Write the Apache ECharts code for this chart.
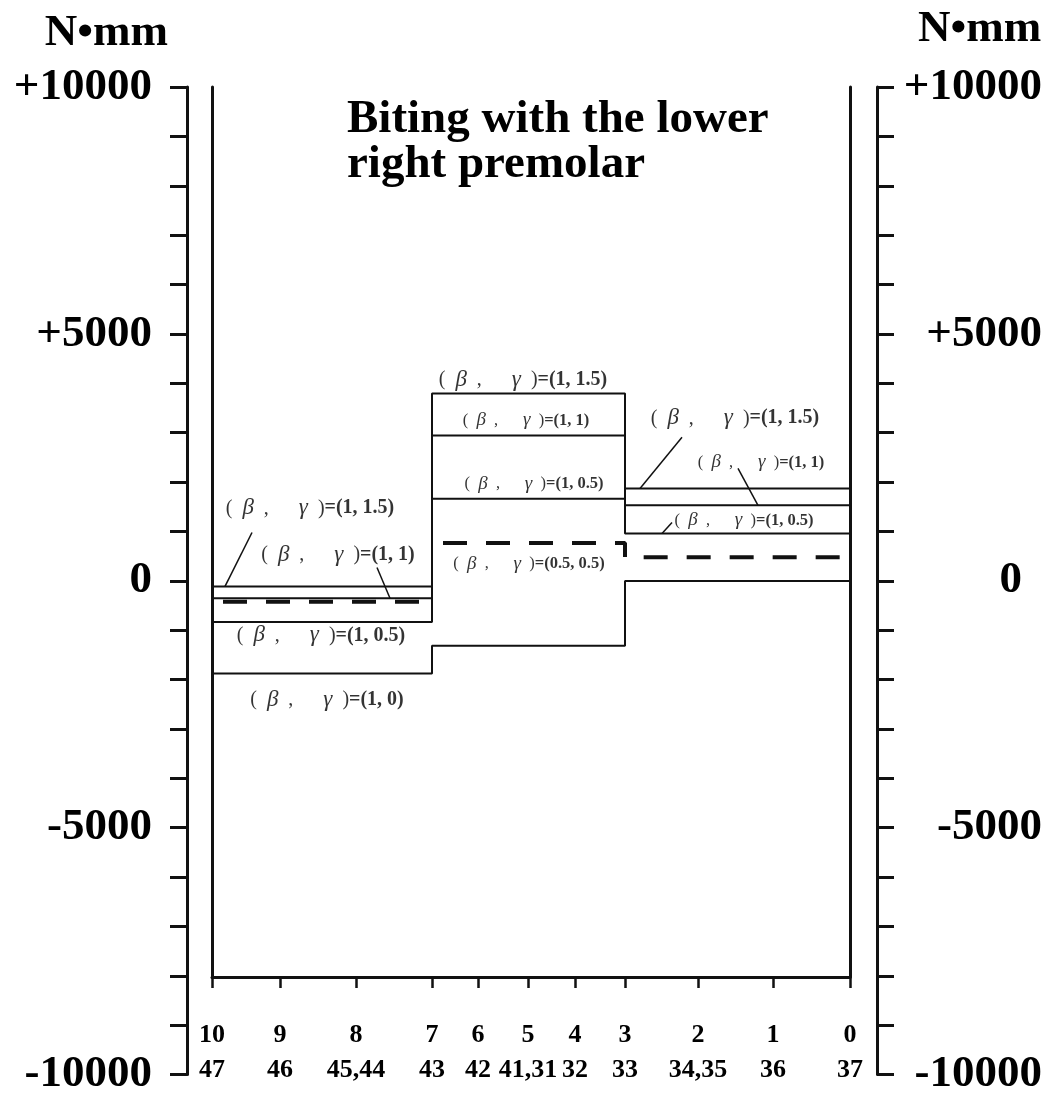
<!DOCTYPE html>
<html>
<head>
<meta charset="utf-8">
<title>Biting with the lower right premolar</title>
<script src="https://cdn.jsdelivr.net/npm/echarts@6/dist/echarts.min.js"></script>
<style>
  html, body { margin: 0; padding: 0; background: #fff; }
  #chart { width: 1048px; height: 1097px; }
</style>
</head>
<body>
<div id="chart"></div>
<script>
// Stations along the lower arch (10 = distal end at tooth 47, 0 = tooth 37)
const stationLabels = ['10', '9', '8', '7', '6', '5', '4', '3', '2', '1', '0'];
const toothLabels = ['47', '46', '45,44', '43', '42', '41,31', '32', '33', '34,35', '36', '37'];
// Distance of each station along the arch (arch-length units)
const stationPos = [0, 68, 144, 220, 266, 316, 363, 413, 486, 561, 638];
// Stations that bound the three constant-moment sections: 10-7, 7-3, 3-0
const sectionEdges = [0, 3, 7, 10];

// Bending moment (N·mm) in each section for each (beta, gamma) case
const m_1_15 = [-100, 3800, 1880];
const m_1_1 = [-340, 2950, 1540];
const m_1_05 = [-820, 1670, 970];
const m_1_0 = [-1860, -1300, 10];
const m_05_05 = [-410, 780, 490];

// Moment axis tick labels
const yLabelValues = [10000, 5000, 0, -5000, -10000];
const yLabelTexts = ['+10000', '+5000', '0', '-5000', '-10000'];

// Case labels and where they sit (arch position, moment)
const annoParams = ['(1, 1.5)', '(1, 1)', '(1, 0.5)', '(1, 0)',
                    '(1, 1.5)', '(1, 1)', '(1, 0.5)', '(0.5, 0.5)',
                    '(1, 1.5)', '(1, 1)', '(1, 0.5)'];
const annoAt = [[98, 1480], [126, 530], [109, -1090], [115, -2400],
                [311, 4070], [314, 3260], [322, 1980], [317, 360],
                [523, 3300], [549, 2410], [532, 1235]];
const annoSmall = [false, false, false, false, false, true, true, true, false, true, true];
// Leader lines from labels to their curves
const leaders = [
  [[40, 990], [13, -100]],
  [[165, 283], [178, -340]],
  [[470, 2915], [428, 1880]],
  [[526, 2287], [546, 1540]],
  [[460, 1194], [450, 970]]
];

const FONT = '"Liberation Serif", "Times New Roman", serif';
const INK = '#111';

// Step outline of a section-wise constant moment; the pen is lifted at
// the section edges listed in liftAt (indices into sectionEdges)
function stepPath(vals, liftAt) {
  const pts = [];
  for (let s = 0; s < vals.length; s++) {
    const x0 = stationPos[sectionEdges[s]];
    const x1 = stationPos[sectionEdges[s + 1]];
    if (s > 0 && liftAt.indexOf(s) >= 0) pts.push([x0, '-']);
    pts.push([x0, vals[s]], [x1, vals[s]]);
  }
  return pts;
}

function momentSeries(name, vals, dashed) {
  return {
    name: name,
    type: 'line',
    xAxisIndex: 1,
    yAxisIndex: 2,
    data: stepPath(vals, dashed ? [1] : []),
    connectNulls: false,
    symbol: 'none',
    silent: true,
    z: dashed ? 4 : 3,
    lineStyle: dashed
      ? { color: INK, width: 4, type: [24, 19], dashOffset: 32, cap: 'butt' }
      : { color: INK, width: 2 }
  };
}

function richFor(size) {
  return {
    p: { fontFamily: FONT, fontSize: size, color: '#000' },
    gk: { fontFamily: FONT, fontSize: Math.round(size * 1.15), fontStyle: 'italic', color: '#000' },
    n: { fontFamily: FONT, fontSize: size, fontWeight: 'bold', color: '#000' }
  };
}

const annoData = annoParams.map(function (txt, i) {
  return {
    value: annoAt[i],
    label: {
      rich: richFor(annoSmall[i] ? 16.5 : 20),
      formatter: '{p|(\u2002}{gk|β}{p|\u2002,\u2003\u2002}{gk|γ}{p|\u2002)}{n|=' + txt + '}'
    }
  };
});

function yLabel(v) {
  const i = yLabelValues.indexOf(v);
  return i < 0 ? '' : yLabelTexts[i];
}

function outerAxis(side) {
  const right = side === 'right';
  return {
    gridIndex: 0,
    type: 'value',
    position: side,
    min: -10000,
    max: 10000,
    interval: 1000,
    name: 'N•mm',
    nameLocation: 'end',
    nameGap: right ? 58 : 54,
    nameTextStyle: {
      fontFamily: FONT, fontSize: 45, fontWeight: 'bold', color: '#000',
      align: right ? 'left' : 'right', verticalAlign: 'middle',
      padding: right ? [0, 0, 0, 41] : [0, 19, 0, 0]
    },
    axisLine: { show: true, onZero: false, lineStyle: { color: INK, width: 3 } },
    axisTick: { show: true, length: 17, lineStyle: { color: INK, width: 3 } },
    axisLabel: {
      show: true,
      customValues: yLabelValues,
      margin: right ? 165 : 35,
      align: 'right',
      fontFamily: FONT, fontSize: 45, fontWeight: 'bold', color: '#000',
      formatter: right
        ? function (v) { return v === 0 ? '{z|0}' : yLabel(v); }
        : yLabel,
      rich: { z: { fontFamily: FONT, fontSize: 45, fontWeight: 'bold', color: '#000', padding: [0, 20, 0, 0] } }
    },
    splitLine: { show: false }
  };
}

function innerAxis(side) {
  return {
    gridIndex: 1,
    type: 'value',
    position: side,
    min: -8000,
    max: 10000,
    axisLine: { show: true, onZero: false, lineStyle: { color: INK, width: 3 } },
    axisTick: { show: false },
    axisLabel: { show: false },
    splitLine: { show: false }
  };
}

const chart = echarts.init(document.getElementById('chart'), null, { renderer: 'canvas' });

chart.setOption({
  animation: false,
  backgroundColor: '#fff',
  title: {
    text: 'Biting with the lower\nright premolar',
    left: 347,
    top: 97,
    padding: 0,
    textStyle: { fontFamily: FONT, fontSize: 47, fontWeight: 'bold', lineHeight: 45, color: '#000' }
  },
  grid: [
    { left: 187, right: 171, top: 87, bottom: 22 },
    { left: 212, right: 198, top: 87, bottom: 120 }
  ],
  xAxis: [
    { gridIndex: 0, type: 'value', min: 0, max: 1, show: false },
    {
      gridIndex: 1,
      type: 'value',
      min: 0,
      max: 638,
      axisLine: { show: true, onZero: false, lineStyle: { color: INK, width: 3 } },
      axisTick: { show: true, customValues: stationPos, length: 11, lineStyle: { color: INK, width: 2.5 } },
      axisLabel: {
        show: true,
        customValues: stationPos,
        margin: 41,
        formatter: function (v) {
          const i = stationPos.findIndex(function (p) { return Math.abs(p - v) < 0.5; });
          return i < 0 ? '' : '{a|' + stationLabels[i] + '}\n{a|' + toothLabels[i] + '}';
        },
        rich: { a: { fontFamily: FONT, fontSize: 26, fontWeight: 'bold', lineHeight: 35, color: '#000' } }
      },
      splitLine: { show: false }
    }
  ],
  yAxis: [outerAxis('left'), outerAxis('right'), innerAxis('left'), innerAxis('right')],
  series: [
    momentSeries('(1, 1.5)', m_1_15, false),
    momentSeries('(1, 1)', m_1_1, false),
    momentSeries('(1, 0.5)', m_1_05, false),
    momentSeries('(1, 0)', m_1_0, false),
    momentSeries('(0.5, 0.5)', m_05_05, true),
    {
      type: 'lines',
      coordinateSystem: 'cartesian2d',
      xAxisIndex: 1,
      yAxisIndex: 2,
      silent: true,
      symbol: 'none',
      lineStyle: { color: INK, width: 1.5, opacity: 1, curveness: 0 },
      data: leaders.map(function (c) { return { coords: c }; })
    },
    {
      type: 'scatter',
      xAxisIndex: 1,
      yAxisIndex: 2,
      silent: true,
      symbolSize: 0,
      itemStyle: { color: 'rgba(0,0,0,0)' },
      label: { show: true, position: 'inside', color: '#000' },
      z: 5,
      data: annoData
    }
  ]
});
</script>
</body>
</html>
